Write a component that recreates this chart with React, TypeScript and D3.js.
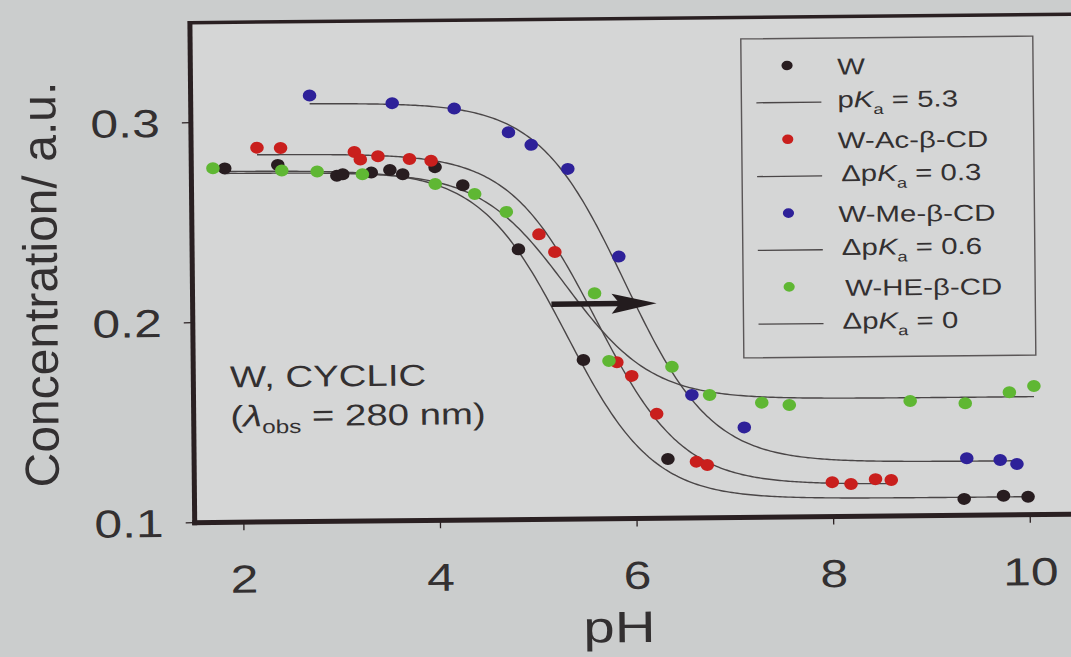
import React from 'react';
import * as d3 from 'd3';

// Measured points: pH and concentration for each system
const PH_W = [1.84, 2.38, 2.98, 3.04, 3.33, 3.52, 3.65, 3.98, 4.26, 4.82, 5.47, 6.32, 9.33, 9.73, 9.98];
const CONC_W = [0.277, 0.2785, 0.2728, 0.2735, 0.2742, 0.2754, 0.2732, 0.2766, 0.2674, 0.2351, 0.1795, 0.1296, 0.1082, 0.1096, 0.109];

const PH_AC = [2.17, 2.41, 3.16, 3.22, 3.4, 3.72, 3.94, 5.03, 5.19, 5.81, 5.96, 6.21, 6.61, 6.72, 7.99, 8.18, 8.43, 8.59];
const CONC_AC = [0.2872, 0.2869, 0.2846, 0.2808, 0.2823, 0.2808, 0.2798, 0.2425, 0.2336, 0.1782, 0.1713, 0.1522, 0.1281, 0.1264, 0.1172, 0.1162, 0.1185, 0.118];

const PH_ME = [2.71, 3.55, 4.18, 4.73, 4.96, 5.33, 5.84, 6.57, 7.1, 9.36, 9.7, 9.87];
const CONC_ME = [0.313, 0.3088, 0.3058, 0.2937, 0.2873, 0.2751, 0.231, 0.1615, 0.145, 0.1285, 0.1275, 0.1254];

const PH_HE = [1.72, 2.42, 2.78, 3.24, 3.98, 4.38, 4.7, 5.59, 5.73, 6.37, 6.75, 7.28, 7.56, 8.79, 9.35, 9.8, 10.05];
const CONC_HE = [0.2771, 0.2757, 0.275, 0.2734, 0.2682, 0.263, 0.2539, 0.2128, 0.1789, 0.1757, 0.1614, 0.1573, 0.156, 0.1574, 0.156, 0.1613, 0.1643];

// Fit parameters: pKa of W and its shift in each cyclodextrin
const PKA_W = 5.3;
const DELTA_PKA = [0, 0.3, 0.6, 0];
const PLATEAU_HIGH = [0.2755, 0.2837, 0.309, 0.2745];
const PLATEAU_LOW = [0.109, 0.116, 0.127, 0.159];
const FIT_START = [1.84, 2.17, 2.71, 1.84];
const FIT_END = [9.98, 8.59, 9.87, 10.05];

const SERIES_NAMES = ['W', 'W-Ac-\u03b2-CD', 'W-Me-\u03b2-CD', 'W-HE-\u03b2-CD'];
const SERIES_COLORS = ['#281d20', '#c91f1d', '#2e2199', '#5fb733'];
const SERIES_PH = [PH_W, PH_AC, PH_ME, PH_HE];
const SERIES_CONC = [CONC_W, CONC_AC, CONC_ME, CONC_HE];

const X_TICKS = [2, 4, 6, 8, 10];
const Y_TICKS = [0.1, 0.2, 0.3];

// Arrow marking the pKa shift (data units)
const ARROW_FROM = [5.15, 0.2075];
const ARROW_TO = [6.22, 0.2075];

const WIDTH = 1071;
const HEIGHT = 657;
const SX = 1.28; // horizontal stretch of the slide lettering
const FONT = "'Liberation Sans', Arial, Helvetica, sans-serif";
const INK = '#2a2022';
const TEXT = '#333031';

const x = d3.scaleLinear().domain([1.5, 10.5]).range([192.3, 1077]);
const y = d3.scaleLinear().domain([0.1, 0.35]).range([518.5, 18.5]);

function HText(props: { x: number; y: number; size: number; anchor?: string; children: React.ReactNode; fill?: string }) {
  return (
    <text
      transform={`translate(${props.x},${props.y}) scale(${SX},1)`}
      fontSize={props.size}
      textAnchor={props.anchor || 'start'}
      fill={props.fill || TEXT}
      fontFamily={FONT}
    >
      {props.children}
    </text>
  );
}

function DeltaLabel({ delta, size }: { delta: number | null; size: number }) {
  return (
    <>
      {delta === null ? 'p' : '\u0394p'}
      <tspan fontStyle="italic">K</tspan>
      <tspan fontSize={size * 0.62} dy={size * 0.3}>a</tspan>
      <tspan dy={-size * 0.3}>{` = ${delta === null ? PKA_W : delta}`}</tspan>
    </>
  );
}

export default function App() {
  const line = d3
    .line<[number, number]>()
    .x((d) => x(d[0]))
    .y((d) => y(d[1]));

  const fits = SERIES_NAMES.map((_, i) => {
    const pKa = PKA_W + DELTA_PKA[i];
    const hi = PLATEAU_HIGH[i];
    const lo = PLATEAU_LOW[i];
    const pts: [number, number][] = d3
      .range(0, 301)
      .map((k) => FIT_START[i] + ((FIT_END[i] - FIT_START[i]) * k) / 300)
      .map((ph) => [ph, lo + (hi - lo) / (1 + Math.pow(10, ph - pKa))]);
    return line(pts) || '';
  });

  const left = x.range()[0];
  const right = x.range()[1];
  const top = y.range()[1];
  const bottom = y.range()[0];

  const ax0 = x(ARROW_FROM[0]);
  const ax1 = x(ARROW_TO[0]);
  const ay = y(ARROW_FROM[1]);

  // Legend geometry
  const legX0 = 743;
  const legY0 = 40;
  const legX1 = 1035;
  const legY1 = 359;
  const rowBase = 76.5;
  const pairGap = 73.8;

  return (
    <svg
      width={WIDTH}
      height={HEIGHT}
      style={{ position: 'absolute', left: 0, top: 0, display: 'block' }}
    >
      <rect x={0} y={0} width={WIDTH} height={HEIGHT} fill="#cbcdcd" />
      <g transform="rotate(-0.55, 630, 270)">
        <rect x={left} y={top} width={right - left} height={bottom - top} fill="#d5d6d6" />

        {/* fitted titration curves */}
        {fits.map((d, i) => (
          <path key={`fit-${i}`} d={d} fill="none" stroke="#4a4647" strokeWidth={1.4} />
        ))}

        {/* measured points */}
        {SERIES_PH.map((phs, i) =>
          phs.map((ph, j) => (
            <ellipse
              key={`pt-${i}-${j}`}
              cx={x(ph)}
              cy={y(SERIES_CONC[i][j])}
              rx={6.8}
              ry={6}
              fill={SERIES_COLORS[i]}
            />
          ))
        )}

        {/* frame */}
        <line x1={left} y1={top} x2={right} y2={top} stroke={INK} strokeWidth={3.5} />
        <line x1={left} y1={top - 1.7} x2={left} y2={bottom + 2.5} stroke={INK} strokeWidth={5} />
        <line x1={left - 2.5} y1={bottom} x2={right} y2={bottom} stroke={INK} strokeWidth={5} />

        {/* y axis */}
        {Y_TICKS.map((t) => (
          <g key={`yt-${t}`}>
            <line x1={left - 9} x2={left} y1={y(t)} y2={y(t)} stroke={INK} strokeWidth={1.3} />
            <HText x={left - 31} y={y(t) + 14} size={39} anchor="end">
              {t.toFixed(1)}
            </HText>
          </g>
        ))}

        {/* x axis */}
        {X_TICKS.map((t) => (
          <g key={`xt-${t}`}>
            <line x1={x(t)} x2={x(t)} y1={bottom} y2={bottom + 8} stroke={INK} strokeWidth={1.3} />
            <HText x={x(t)} y={589} size={39} anchor="middle">
              {t}
            </HText>
          </g>
        ))}

        <HText x={616} y={642} size={44} anchor="middle">
          pH
        </HText>
        <text
          transform="translate(57,279) rotate(-90)"
          fontSize={48}
          textAnchor="middle"
          fill={TEXT}
          fontFamily={FONT}
        >
          Concentration/ a.u.
        </text>

        {/* annotation */}
        <HText x={229} y={383.5} size={30}>
          W, CYCLIC
        </HText>
        <HText x={229} y={422.8} size={30}>
          (<tspan fontStyle="italic">{'\u03bb'}</tspan>
          <tspan fontSize={19} dy={7}>obs</tspan>
          <tspan dy={-7}> = 280 nm)</tspan>
        </HText>

        {/* arrow */}
        <line x1={ax0} y1={ay} x2={ax1 - 36} y2={ay} stroke="#231c1e" strokeWidth={5.5} />
        <path
          d={`M${ax1},${ay} L${ax1 - 45},${ay - 10} L${ax1 - 37},${ay} L${ax1 - 45},${ay + 10} Z`}
          fill="#231c1e"
        />

        {/* legend */}
        <rect
          x={legX0}
          y={legY0}
          width={legX1 - legX0}
          height={legY1 - legY0}
          fill="none"
          stroke="#5a5657"
          strokeWidth={1.4}
        />
        {SERIES_NAMES.map((name, i) => {
          const b1 = rowBase + i * pairGap;
          const b2 = b1 + 33;
          return (
            <g key={`leg-${i}`}>
              <ellipse cx={789} cy={b1 - 9.5} rx={5.6} ry={4.8} fill={SERIES_COLORS[i]} />
              <HText x={i === 3 ? 845 : 839} y={b1} size={23}>
                {name}
              </HText>
              <line x1={758} x2={823} y1={b2 - 5.5} y2={b2 - 5.5} stroke="#4a4647" strokeWidth={1.3} />
              <HText x={i === 0 ? 839 : 842} y={b2} size={23}>
                <DeltaLabel delta={i === 0 ? null : DELTA_PKA[i]} size={23} />
              </HText>
            </g>
          );
        })}
      </g>
    </svg>
  );
}
